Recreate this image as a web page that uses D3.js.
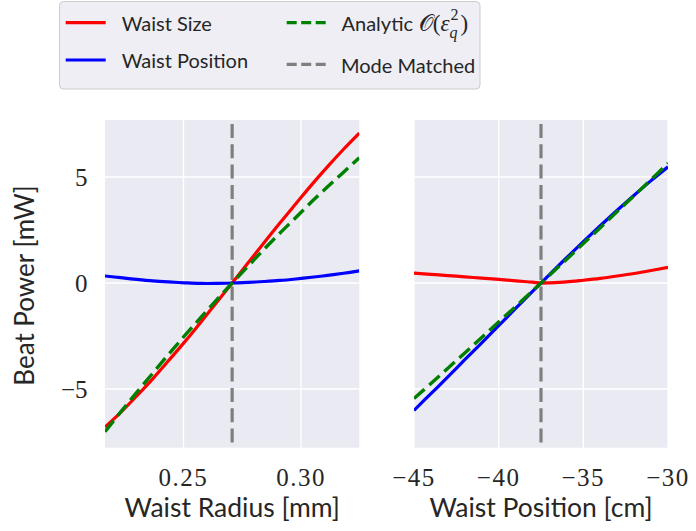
<!DOCTYPE html>
<html>
<head>
<meta charset="utf-8">
<script src="https://cdn.jsdelivr.net/npm/d3@7"></script>
<style>
  html, body { margin: 0; padding: 0; background: #ffffff; }
  svg { display: block; }
</style>
</head>
<body>
<svg id="chart" width="696" height="531"></svg>
<script>
// ---------------- data ----------------
const radius = [0.2166,0.2233,0.2301,0.2369,0.2436,0.2504,0.2572,0.2639,0.2707,0.2775,0.2842,0.2910,0.2978,0.3045,0.3113,0.3181,0.3248];
const radiusWaistSize = [-6.80,-6.10,-5.33,-4.52,-3.67,-2.79,-1.87,-0.94,0,0.95,1.89,2.83,3.74,4.63,5.49,6.31,7.07];
const radiusWaistPos  = [0.33,0.25,0.17,0.10,0.05,0.01,-0.02,-0.02,0,0.03,0.07,0.12,0.19,0.27,0.36,0.46,0.57];
const radiusAnalytic  = [-7.02,-6.08,-5.16,-4.26,-3.37,-2.50,-1.65,-0.82,0,0.80,1.58,2.35,3.09,3.83,4.54,5.23,5.91];

const position = [-45,-44,-43,-42,-41,-40,-39,-38,-37.5,-37,-36,-35,-34,-33,-32,-31,-30];
const positionWaistSize = [0.47,0.41,0.35,0.29,0.23,0.17,0.10,0.04,0,0.01,0.05,0.13,0.22,0.33,0.45,0.59,0.74];
const positionWaistPos  = [-6.01,-5.22,-4.43,-3.62,-2.82,-2.01,-1.20,-0.40,0,0.40,1.18,1.95,2.70,3.43,4.14,4.83,5.48];
const positionAnalytic  = [-5.45,-4.74,-4.02,-3.30,-2.57,-1.84,-1.11,-0.37,0,0.37,1.11,1.86,2.61,3.37,4.12,4.88,5.65];

const modeMatchedRadius = 0.2707;
const modeMatchedPosition = -37.5;

const yTicks = [-5, 0, 5];
const xTicksRadius = [0.25, 0.30];
const xTicksPosition = [-45, -40, -35, -30];

const legendLabels = ["Waist Size", "Waist Position", "Analytic", "Mode Matched"];
const seriesColors = { size: "#ff0000", pos: "#0000ff", analytic: "#008000", mode: "#7f7f7f" };

// ---------------- layout ----------------
const svg = d3.select("#chart");
const plotTop = 120, plotBottom = 447.7;
const y = d3.scaleLinear().domain([-7.77, 7.69]).range([plotBottom, plotTop]);
const xL = d3.scaleLinear().domain([0.2166, 0.3248]).range([105, 359.3]);
const xR = d3.scaleLinear().domain([-45, -30]).range([414, 668]);

const numFont = "'Liberation Serif', 'Times New Roman', serif";
const txtFont = "Lato, 'Open Sans', sans-serif";
const fmtMinus = s => s.replace("-", "\u2212");

function panel(id, x, xs, series, modeX, xTicks, xFmt, xLabel, showY) {
  const [x0, x1] = x.range();
  const g = svg.append("g");
  g.append("rect").attr("x", x0).attr("y", plotTop).attr("width", x1 - x0).attr("height", plotBottom - plotTop)
    .attr("fill", "#eaeaf2");
  g.selectAll(".gx").data(xTicks).enter().append("line")
    .attr("x1", d => x(d)).attr("x2", d => x(d)).attr("y1", plotTop).attr("y2", plotBottom)
    .attr("stroke", "#ffffff").attr("stroke-width", 1.3);
  g.selectAll(".gy").data(yTicks).enter().append("line")
    .attr("x1", x0).attr("x2", x1).attr("y1", d => y(d)).attr("y2", d => y(d))
    .attr("stroke", "#ffffff").attr("stroke-width", 1.3);
  svg.append("clipPath").attr("id", id).append("rect")
    .attr("x", x0).attr("y", plotTop).attr("width", x1 - x0).attr("height", plotBottom - plotTop);
  const c = g.append("g").attr("clip-path", `url(#${id})`);
  c.append("line").attr("x1", x(modeX)).attr("x2", x(modeX)).attr("y1", plotTop + 4).attr("y2", plotBottom)
    .attr("stroke", seriesColors.mode).attr("stroke-width", 3.2).attr("stroke-dasharray", "14,6.3");
  const line = vals => d3.line().x((d, i) => x(xs[i])).y(d => y(d)).curve(d3.curveCatmullRom.alpha(0.5))(vals);
  series.forEach(s => {
    c.append("path").attr("d", line(s.vals)).attr("fill", "none")
      .attr("stroke", s.color).attr("stroke-width", s.dash ? 3.4 : 3.2)
      .attr("stroke-dasharray", s.dash || null).attr("stroke-linecap", "butt");
  });
  g.selectAll(".tx").data(xTicks).enter().append("text")
    .attr("x", d => x(d)).attr("y", 485.5).attr("text-anchor", "middle")
    .attr("font-family", numFont).attr("font-size", 25).attr("letter-spacing", 1.5)
    .attr("fill", "#262626").text(d => fmtMinus(xFmt(d)));
  g.append("text").attr("x", (x0 + x1) / 2).attr("y", 517).attr("text-anchor", "middle")
    .attr("font-family", txtFont).attr("font-size", 26.5).attr("fill", "#262626").text(xLabel);
  if (showY) {
    g.selectAll(".ty").data(yTicks).enter().append("text")
      .attr("x", 87.5).attr("y", d => y(d) + 9).attr("text-anchor", "end")
      .attr("font-family", numFont).attr("font-size", 25)
      .attr("fill", "#262626").text(d => fmtMinus(String(d)));
  }
}

panel("clipL", xL, radius, [
  { vals: radiusWaistSize, color: seriesColors.size },
  { vals: radiusWaistPos, color: seriesColors.pos },
  { vals: radiusAnalytic, color: seriesColors.analytic, dash: "14,6.3" }
], modeMatchedRadius, xTicksRadius, d3.format(".2f"), "Waist Radius [mm]", true);

panel("clipR", xR, position, [
  { vals: positionWaistSize, color: seriesColors.size },
  { vals: positionWaistPos, color: seriesColors.pos },
  { vals: positionAnalytic, color: seriesColors.analytic, dash: "14,6.3" }
], modeMatchedPosition, xTicksPosition, d3.format("d"), "Waist Position [cm]", false);

svg.append("text").attr("transform", "translate(34,285.5) rotate(-90)").attr("text-anchor", "middle")
  .attr("font-family", txtFont).attr("font-size", 26).attr("fill", "#262626").text("Beat Power [mW]");

// ---------------- legend ----------------
const lg = svg.append("g");
lg.append("rect").attr("x", 59.5).attr("y", 1.5).attr("width", 420.5).attr("height", 87.5).attr("rx", 4)
  .attr("fill", "#eeeef4").attr("stroke", "#cccccc").attr("stroke-width", 1);
const legendItems = [
  { label: legendLabels[0], color: seriesColors.size, dash: null, lx: 65.7, ly: 22.7, tx: 121.7, ty: 30.7 },
  { label: legendLabels[1], color: seriesColors.pos, dash: null, lx: 65.7, ly: 60, tx: 121.7, ty: 68.3 },
  { label: legendLabels[2], color: seriesColors.analytic, dash: "10,4.5", lx: 286.7, ly: 22.7, tx: 341.5, ty: 30.7, math: true },
  { label: legendLabels[3], color: seriesColors.mode, dash: "10,4.5", lx: 286.7, ly: 64.3, tx: 341, ty: 72.7 }
];
legendItems.forEach(it => {
  lg.append("line").attr("x1", it.lx).attr("x2", it.lx + 40).attr("y1", it.ly).attr("y2", it.ly)
    .attr("stroke", it.color).attr("stroke-width", 3.2).attr("stroke-dasharray", it.dash);
  const t = lg.append("text").attr("x", it.tx).attr("y", it.ty)
    .attr("font-family", txtFont).attr("font-size", 20).attr("fill", "#262626");
  t.append("tspan").text(it.label);
  if (it.math) {
    t.append("tspan").attr("font-family", numFont).attr("font-size", 23).text(" \uD835\uDCAA(");
    t.append("tspan").attr("font-family", numFont).attr("font-size", 23).attr("font-style", "italic").text("\u03B5");
    t.append("tspan").attr("font-family", numFont).attr("font-style", "italic").attr("font-size", 16)
      .attr("dy", 7).text("q");
    t.append("tspan").attr("font-family", numFont).attr("font-size", 16).attr("dx", -7).attr("dy", -18).text("2");
    t.append("tspan").attr("font-family", numFont).attr("font-size", 23).attr("dy", 11).attr("dx", 2).text(")");
  }
});
</script>
</body>
</html>
